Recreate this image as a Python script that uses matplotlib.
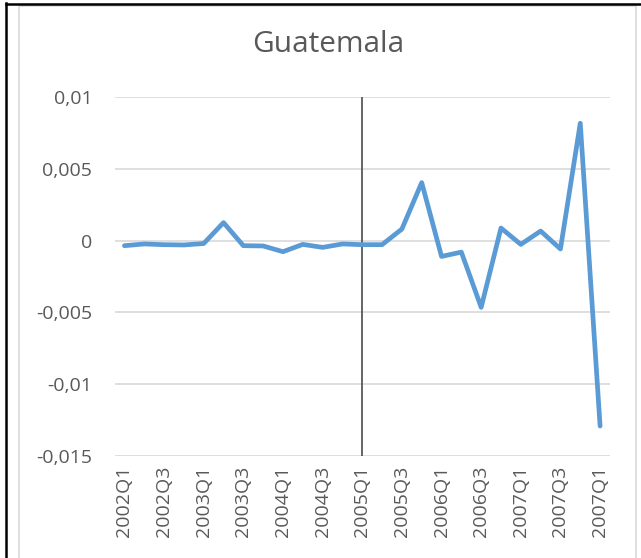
import matplotlib
matplotlib.use("Agg")
import matplotlib.pyplot as plt
from matplotlib.lines import Line2D
from matplotlib.patches import Rectangle
from matplotlib.ticker import FixedLocator, FuncFormatter

categories = [f"{y}Q{q}" for y in range(2002, 2008) for q in range(1, 5)] + ["2007Q1"]
values = [-0.00035, -0.00023, -0.00028, -0.0003, -0.0002, 0.00126, -0.00035, -0.00037,
          -0.00077, -0.00026, -0.00047, -0.00023, -0.00028, -0.00028, 0.00081, 0.00405,
          -0.0011, -0.0008, -0.00465, 0.00088, -0.00026, 0.00067, -0.00058, 0.00819, -0.01293]
title = "Guatemala"
yticks = [-0.015, -0.01, -0.005, 0, 0.005, 0.01]
marker_category = "2005Q1"

plt.rcParams['font.family'] = ['Open Sans', 'DejaVu Sans']

W, H = 641, 558
fig = plt.figure(figsize=(W / 100, H / 100), dpi=100)
fig.patch.set_facecolor("white")

# chart border and outer frame
fig.add_artist(Rectangle((19 / W, -0.01), (636 - 19) / W, 1 - 6 / H + 0.01, transform=fig.transFigure,
                         fill=False, edgecolor="#D9D9D9", linewidth=1.2))
fig.add_artist(Line2D([6 / W, 6 / W], [0, 1 - 3 / H], transform=fig.transFigure, color="black", linewidth=1.8))
fig.add_artist(Line2D([6 / W, 640 / W], [1 - 3.5 / H, 1 - 3.5 / H], transform=fig.transFigure, color="black", linewidth=1.8))

left, right = 114.5 / W, 610 / W
bottom, top = 1 - 455.7 / H, 1 - 97.3 / H
ax = fig.add_axes([left, bottom, right - left, top - bottom])

x = list(range(len(categories)))
ax.plot(x, values, color="#5B9BD5", linewidth=3.4, solid_capstyle="round", solid_joinstyle="round", zorder=3)

xi = categories.index(marker_category)
ax.axvline(xi, color="#595959", linewidth=1.3, zorder=2)

ax.set_xlim(-0.5, len(categories) - 0.5)
ax.set_ylim(min(yticks), max(yticks))
ax.yaxis.set_major_locator(FixedLocator(yticks))
ax.yaxis.set_major_formatter(FuncFormatter(lambda v, p: ("0" if abs(v) < 1e-12 else f"{v:g}".replace(".", ","))))
ax.set_xticks(x[::2])
ax.set_xticklabels(categories[::2], rotation=90)
ax.grid(axis="y", color="#D9D9D9", linewidth=1.2)
ax.set_axisbelow(True)
for s in ax.spines.values():
    s.set_visible(False)
ax.tick_params(axis="both", length=0, labelcolor="#595959", labelsize=14)
ax.tick_params(axis="y", pad=16)
ax.tick_params(axis="x", pad=7)

fig.text(328 / W, 1 - 45 / H, title, ha="center", va="center", fontsize=21.5, color="#595959")

fig.savefig("out.png", dpi=100)
